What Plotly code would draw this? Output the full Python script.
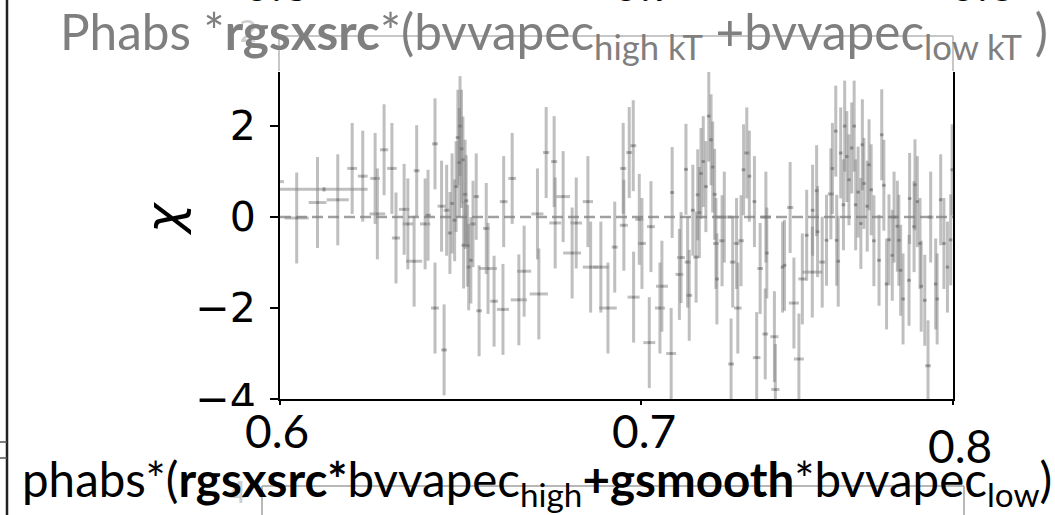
import plotly.graph_objects as go
import math

# ---------------- data ----------------
energy_keV = [0.5990, 0.6114, 0.6043, 0.6097, 0.6150, 0.6188, 0.6216, 0.6249, 0.6255, 0.6273,
              0.6294, 0.6305, 0.6327, 0.6337, 0.6361, 0.6354, 0.6384, 0.6392, 0.6411, 0.6411,
              0.6429, 0.6436, 0.6443, 0.6452, 0.6458, 0.6465, 0.6469, 0.6474, 0.6478, 0.6480,
              0.6484, 0.6488, 0.6490, 0.6494, 0.6497, 0.6501, 0.6504, 0.6510, 0.6516, 0.6525,
              0.6533, 0.6553, 0.6558, 0.6575, 0.6600, 0.6602, 0.6626, 0.6645, 0.6660, 0.6698,
              0.6702, 0.6723, 0.6746, 0.6749, 0.6772, 0.6798, 0.6810, 0.6844, 0.6852, 0.6882,
              0.6903, 0.6923, 0.6948, 0.6950, 0.6966, 0.6978, 0.6979, 0.6996, 0.7004, 0.7026,
              0.7031, 0.7058, 0.7064, 0.7092, 0.7095, 0.7117, 0.7122, 0.7137, 0.7142, 0.7147,
              0.7158, 0.7168, 0.7173, 0.7178, 0.7183, 0.7190, 0.7198, 0.7207, 0.7214, 0.7219,
              0.7225, 0.7229, 0.7232, 0.7248, 0.7255, 0.7276, 0.7281, 0.7293, 0.7297, 0.7307,
              0.7315, 0.7325, 0.7333, 0.7349, 0.7356, 0.7367, 0.7383, 0.7385, 0.7388, 0.7412,
              0.7415, 0.7438, 0.7444, 0.7462, 0.7474, 0.7490, 0.7501, 0.7515, 0.7533, 0.7534,
              0.7547, 0.7550, 0.7565, 0.7579, 0.7593, 0.7598, 0.7609, 0.7612, 0.7617, 0.7625,
              0.7634, 0.7638, 0.7645, 0.7652, 0.7661, 0.7669, 0.7674, 0.7682, 0.7691, 0.7696,
              0.7701, 0.7712, 0.7718, 0.7725, 0.7734, 0.7751, 0.7760, 0.7767, 0.7776, 0.7784,
              0.7795, 0.7801, 0.7812, 0.7817, 0.7823, 0.7831, 0.7851, 0.7853, 0.7868, 0.7871,
              0.7879, 0.7888, 0.7892, 0.7904, 0.7915, 0.7924, 0.7941, 0.7946, 0.7958, 0.7969,
              0.7981, 0.7992, 0.7997]

chi_residual = [0.78, 0.61, -0.02, 0.32, 0.38, 1.07, 0.90, 0.85, 0.07, 1.48,
                1.07, -0.46, 0.17, -0.15, 1.02, -0.97, -0.15, 0.04, 1.61, -2.00,
                0.24, -2.92, 0.15, -0.35, 0.30, -0.07, 0.67, 1.75, 1.20, 2.00,
                1.50, 1.26, -0.62, 0.50, 0.36, -0.63, -1.10, -0.95, -0.15, 0.45,
                -2.06, -0.25, -1.13, -1.85, -2.03, 0.34, 0.85, -1.82, -1.19, 0.07,
                -1.69, 1.42, 1.22, -0.13, 0.45, -0.79, -0.13, 0.34, -1.10, -1.10,
                -2.00, -0.66, 1.07, -0.18, 1.42, 1.57, -1.76, -0.05, -0.58, -2.76,
                -0.21, -2.00, -1.52, -3.00, 0.54, -1.26, -0.89, 1.05, -0.99, -1.72,
                0.15, -0.88, 0.49, 0.10, 0.96, 1.22, 0.67, 2.22, 1.70, 1.10,
                0.50, -0.58, -1.36, -0.52, 0.00, -3.23, -0.99, -0.58, -2.00, -0.52,
                1.04, 1.41, 0.90, 0.34, -3.09, -1.13, -2.57, 0.00, -0.79, -2.63,
                -3.79, -1.10, -1.06, 0.21, -1.89, -3.12, -1.36, -0.40, -1.21, 0.15,
                0.58, -0.32, -0.99, -0.51, 0.51, 1.07, 1.89, -0.51, -0.97, 1.41,
                0.27, 2.00, 1.33, 0.82, 1.52, 2.00, 0.27, 0.55, -0.14, 1.59,
                0.74, 0.24, 1.15, 0.60, -0.52, -0.95, 1.81, 0.70, -1.47, -0.50,
                -0.84, 0.00, -0.20, -0.51, -1.17, -1.80, -1.39, 0.41, -0.21, 0.71,
                0.34, -0.58, -1.52, -1.83, -3.27, 0.00, -1.47, -1.80, 0.38, -0.58,
                -1.10, -0.50, 1.04]

chi_error = [1.0, 0.05, 1.0, 1.0, 1.0, 1.0, 1.0, 1.0, 1.0, 1.0,
             1.0, 1.0, 1.0, 1.0, 1.0, 1.0, 1.0, 1.0, 1.0, 1.0,
             1.0, 1.0, 1.0, 0.9, 1.1, 0.9, 1.0, 1.05, 1.2, 1.1,
             1.3, 0.95, 0.95, 1.2, 1.0, 0.9, 0.95, 0.95, 0.95, 0.95,
             1.0, 1.0, 1.0, 1.0, 1.0, 1.0, 1.0, 1.0, 1.0, 1.0,
             1.0, 1.0, 1.0, 1.0, 1.0, 1.0, 1.0, 1.0, 1.0, 1.0,
             1.0, 1.0, 1.0, 1.0, 1.0, 1.0, 1.0, 1.0, 1.0, 1.0,
             1.0, 1.0, 1.0, 1.0, 1.0, 1.0, 1.0, 1.0, 1.0, 1.0,
             1.0, 1.0, 1.0, 1.0, 1.0, 1.0, 1.0, 1.0, 1.0, 1.0,
             1.0, 1.0, 1.0, 1.0, 1.0, 1.0, 1.0, 1.0, 1.0, 1.0,
             1.0, 1.0, 1.0, 1.0, 1.0, 1.0, 1.0, 1.0, 1.0, 1.0,
             1.0, 1.0, 1.0, 1.0, 1.0, 1.0, 1.0, 1.0, 1.0, 1.0,
             1.0, 1.0, 1.0, 1.0, 1.0, 1.0, 1.0, 1.0, 1.0, 1.0,
             1.0, 1.0, 1.0, 1.0, 1.0, 1.0, 1.0, 1.0, 1.0, 1.0,
             1.0, 1.0, 1.0, 1.0, 1.0, 1.0, 1.0, 1.0, 1.0, 1.0,
             1.0, 1.0, 1.0, 1.0, 1.0, 1.0, 1.0, 1.0, 1.0, 1.0,
             1.0, 1.0, 1.0, 1.0, 1.0, 1.0, 1.0, 1.0, 1.0, 1.0,
             1.0, 1.0, 1.0]

energy_halfwidth = [0.0020, 0.0115, 0.0031, 0.0023, 0.0029, 0.0013, 0.0013, 0.0013, 0.0021, 0.0011,
                    0.0013, 0.0011, 0.0014, 0.0014, 0.0008, 0.0022, 0.0014, 0.0008, 0.0008, 0.0011,
                    0.0011, 0.0008, 0.0008, 0.0006, 0.0006, 0.0006, 0.0006, 0.0006, 0.0006, 0.0006,
                    0.0006, 0.0006, 0.0006, 0.0006, 0.0006, 0.0006, 0.0006, 0.0006, 0.0008, 0.0008,
                    0.0008, 0.0009, 0.0025, 0.0011, 0.0017, 0.0011, 0.0011, 0.0023, 0.0020, 0.0017,
                    0.0026, 0.0009, 0.0009, 0.0017, 0.0020, 0.0026, 0.0017, 0.0015, 0.0023, 0.0023,
                    0.0026, 0.0009, 0.0009, 0.0012, 0.0009, 0.0009, 0.0018, 0.0012, 0.0012, 0.0018,
                    0.0012, 0.0015, 0.0018, 0.0015, 0.0006, 0.0012, 0.0012, 0.0006, 0.0009, 0.0009,
                    0.0006, 0.0009, 0.0006, 0.0006, 0.0006, 0.0006, 0.0006, 0.0006, 0.0006, 0.0006,
                    0.0006, 0.0009, 0.0006, 0.0009, 0.0025, 0.0009, 0.0009, 0.0009, 0.0012, 0.0009,
                    0.0006, 0.0009, 0.0006, 0.0006, 0.0012, 0.0009, 0.0009, 0.0016, 0.0006, 0.0013,
                    0.0013, 0.0006, 0.0006, 0.0010, 0.0016, 0.0016, 0.0013, 0.0006, 0.0032, 0.0006,
                    0.0006, 0.0006, 0.0010, 0.0006, 0.0010, 0.0006, 0.0006, 0.0006, 0.0006, 0.0006,
                    0.0006, 0.0006, 0.0006, 0.0006, 0.0006, 0.0006, 0.0006, 0.0006, 0.0006, 0.0006,
                    0.0006, 0.0006, 0.0006, 0.0006, 0.0006, 0.0006, 0.0006, 0.0006, 0.0006, 0.0006,
                    0.0006, 0.0013, 0.0006, 0.0006, 0.0006, 0.0006, 0.0006, 0.0006, 0.0006, 0.0006,
                    0.0006, 0.0006, 0.0006, 0.0006, 0.0010, 0.0010, 0.0006, 0.0006, 0.0006, 0.0006,
                    0.0006, 0.0006, 0.0006]

model_energy = [0.6, 0.8]
model_zero = [0.0, 0.0]

y_tick_values = [-4, -2, 0, 2]
y_tick_labels = ["\u22124", "\u22122", "0", "2"]
energy_labels = ["0.6", "0.7", "0.8"]

# ---------------- figure ----------------
W, H = 1055, 515
L, R, T, B = 280, 953, 72, 399          # plot area in pixels


def px(x):
    return (x - L) / (R - L)


def py(y):
    return (B - y) / (B - T)


bar_col = "rgba(128,128,128,0.5)"

fig = go.Figure()
fig.add_trace(go.Scatter(
    x=model_energy, y=model_zero, mode="lines",
    line=dict(color="rgba(128,128,128,0.75)", width=2.5, dash="11px,5px"),
    hoverinfo="skip", showlegend=False))
fig.add_trace(go.Scatter(
    x=energy_keV, y=chi_residual, mode="markers",
    marker=dict(size=3, color="rgba(110,110,110,0.5)"),
    error_y=dict(type="data", array=chi_error, color=bar_col, thickness=3, width=0),
    error_x=dict(type="data", array=energy_halfwidth, color=bar_col, thickness=3, width=0),
    showlegend=False))

fig.update_xaxes(type="log", range=[math.log10(0.6), math.log10(0.8)],
                 showline=True, linecolor="black", linewidth=2, mirror=False,
                 ticks="outside", ticklen=4, tickwidth=1.5, tickcolor="black",
                 tickvals=[0.6, 0.7, 0.8], showticklabels=False,
                 showgrid=False, zeroline=False)
fig.update_yaxes(range=[-4, 3.19], showline=True, linecolor="black", linewidth=2,
                 mirror=True, ticks="outside", ticklen=8, tickwidth=1.5, tickcolor="black",
                 tickvals=y_tick_values, ticktext=y_tick_labels,
                 tickfont=dict(family="DejaVu Sans", size=41, color="black"),
                 ticklabelstandoff=6, showgrid=False, zeroline=False)

shapes = []
# white panel hiding lower part (slide overlay)
shapes.append(dict(type="rect", xref="paper", yref="paper", x0=px(12), x1=px(W), y0=py(H + 5), y1=py(406),
                   fillcolor="white", line=dict(width=0), layer="above"))
gray = "#b4b4b4"
# top frame of pasted image
shapes.append(dict(type="line", xref="paper", yref="paper", x0=px(279), x1=px(953), y0=py(36), y1=py(36),
                   line=dict(color=gray, width=1.5), layer="above"))
shapes.append(dict(type="line", xref="paper", yref="paper", x0=px(279), x1=px(279), y0=py(36), y1=py(71),
                   line=dict(color=gray, width=1.5), layer="above"))
shapes.append(dict(type="line", xref="paper", yref="paper", x0=px(953), x1=px(953), y0=py(36), y1=py(71),
                   line=dict(color=gray, width=1.5), layer="above"))
# bottom frame of pasted image
shapes.append(dict(type="line", xref="paper", yref="paper", x0=px(262), x1=px(964), y0=py(486), y1=py(486),
                   line=dict(color="#a0a0a0", width=1.5), layer="above"))
shapes.append(dict(type="line", xref="paper", yref="paper", x0=px(262), x1=px(262), y0=py(486), y1=py(520),
                   line=dict(color="#a0a0a0", width=1.5), layer="above"))
shapes.append(dict(type="line", xref="paper", yref="paper", x0=px(964), x1=px(964), y0=py(486), y1=py(520),
                   line=dict(color="#a0a0a0", width=1.5), layer="above"))
# left border line of slide
shapes.append(dict(type="line", xref="paper", yref="paper", x0=px(7), x1=px(7), y0=py(-5), y1=py(520),
                   line=dict(color="#222222", width=2.5), layer="above"))
for yy in (442, 458):
    shapes.append(dict(type="line", xref="paper", yref="paper", x0=px(-2), x1=px(7), y0=py(yy), y1=py(yy),
                       line=dict(color="#555555", width=1.5), layer="above"))

ann = []
title_font = "Lato"


def add_text(text, x, y, size, color="black", family=title_font, angle=0, yanchor="middle"):
    ann.append(dict(text=text, x=px(x), y=py(y), xref="paper", yref="paper", showarrow=False,
                    xanchor="center", yanchor=yanchor, textangle=angle,
                    font=dict(family=family, size=size, color=color)))


# faint glyphs of the underlying figures
add_text("2", 248, 32, 30, color="#cfcfcf", family="DejaVu Sans")
add_text("4", 237, 492, 30, color="#cfcfcf", family="DejaVu Sans")
# y label
add_text("<i>\u03c7</i>", 164, 219, 50, family="DejaVu Sans", angle=-90)
# cut-off tick labels of the panel above
for lab, xx in zip(energy_labels, [276, 645, 982]):
    add_text(lab, xx, 13, 48, yanchor="bottom")
# big energy labels
for lab, xx, yy in zip(energy_labels, [277, 644, 960], [430, 430, 445]):
    add_text(lab, xx, yy, 46)
# gray title
add_text("Phabs *<b>rgsxsrc</b>*(bvvapec<sub>high kT</sub> +bvvapec<sub>low kT</sub> )",
         554, 34, 49.5, color="#7f7f7f")
# black title
add_text("phabs*(<b>rgsxsrc*</b>bvvapec<sub>high</sub><b>+gsmooth</b>*bvvapec<sub>low</sub>)",
         537, 482, 47.5)

fig.update_layout(width=W, height=H, margin=dict(l=L, r=W - R, t=T, b=H - B),
                  paper_bgcolor="white", plot_bgcolor="white",
                  shapes=shapes, annotations=ann)
fig.write_html("out.html")
